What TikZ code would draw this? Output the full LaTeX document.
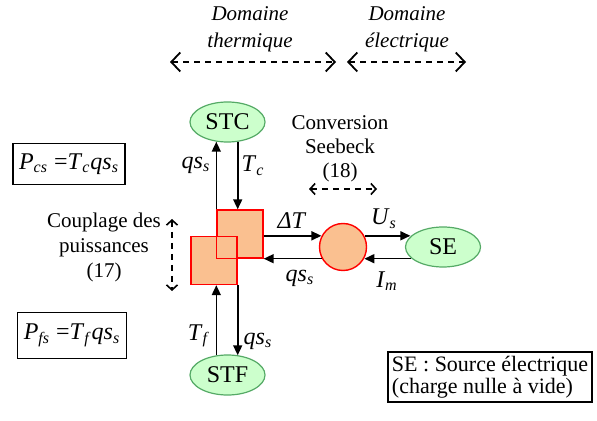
\documentclass[tikz,border=0pt]{standalone}
\usepackage{fontspec}
\setmainfont{Liberation Serif}
\usetikzlibrary{positioning, arrows.meta, shapes.geometric}

\definecolor{vertfond}{HTML}{CCFFCC}
\definecolor{vertbord}{HTML}{55AA66}
\definecolor{peche}{HTML}{FAC090}

\newcommand{\grand}[2]{\textit{#1}\textsubscript{\textit{#2}}}

\begin{document}
\begin{tikzpicture}[x=0.5pt, y=-0.5pt,
	source/.style={ellipse, draw=vertbord, fill=vertfond, line width=0.6pt, minimum width=37.5pt, minimum height=20pt, inner sep=0pt, font=\fontsize{12}{14}\selectfont},
	carre/.style={draw=red, fill=peche, line width=0.7pt, minimum width=23pt, minimum height=24pt, inner sep=0pt},
	fleche/.style={line width=0.8pt, -{Triangle[length=5pt,width=4.5pt]}},
	domaine/.style={line width=0.9pt, dash pattern=on 3pt off 2.5pt, {Straight Barb[length=4.5pt,width=9.5pt]}-{Straight Barb[length=4.5pt,width=9.5pt]}},
	couplage/.style={line width=0.8pt, dash pattern=on 3pt off 2.5pt, {Straight Barb[length=2.5pt,width=5.5pt]}-{Straight Barb[length=2.5pt,width=5.5pt]}},
	texte/.style={align=center, font=\fontsize{10.5}{12.5}\selectfont},
	lbl/.style={inner sep=0pt, font=\fontsize{12}{14}\selectfont},
	cadre/.style={draw, line width=0.6pt, inner xsep=3pt, font=\fontsize{12}{14}\selectfont}]

	\useasboundingbox (0, 0) rectangle (597, 421);

	% domaines
	\node[texte, font=\fontsize{10.5}{13.5}\selectfont\itshape] (domth) at (250, 29) {Domaine\\thermique};
	\node[texte, font=\fontsize{10.5}{13.5}\selectfont\itshape] (domel) at (407, 29) {Domaine\\électrique};
	\coordinate (thg) at (170, 62);
	\coordinate (thd) at (336, 62);
	\coordinate (elg) at (347, 62);
	\coordinate (eld) at (466, 62);
	\draw[domaine] (thg) -- (thd);
	\draw[domaine] (elg) -- (eld);

	% sources
	\node[source] (stc) at (227.5, 122) {STC};
	\node[source] (stf) at (227.5, 375) {STF};
	\node[source] (se) at (443, 247) {SE};

	% couplage des puissances
	\node[carre] (sq1) at (240, 234) {};
	\node[carre] (sq2) at (214, 260.5) {};
	\draw[red, line width=0.7pt] (sq1.south west) rectangle (sq1.north east);

	% conversion
	\node[circle, draw=red, fill=peche, line width=0.7pt, minimum size=23.5pt, inner sep=0pt] (conv) at (343, 247) {};

	% fleches thermiques
	\draw[fleche] (sq1.north west) -- (sq1.north west |- stc.241);
	\draw[fleche] (sq2.east |- stc.299) -- (sq2.east |- sq1.north);
	\draw[fleche] (sq1.west |- stf.119) -- (sq1.west |- sq2.south);
	\draw[fleche] (sq2.south east) -- (sq2.south east |- stf.61);
	\draw[fleche] (sq1.east |- sq2.north) -- (conv.153 |- sq2.north);
	\draw[fleche] (conv.208 |- sq1.south) -- (sq1.south east);

	% fleches electriques
	\draw[fleche] (conv.27 |- sq2.north) -- (se.162 |- sq2.north);
	\draw[fleche] (se.199 |- sq1.south) -- (conv.332 |- sq1.south);

	% grandeurs
	\node[lbl] (qsc) at (196, 165) {\grand{qs}{s}};
	\node[lbl] (tc) at (253, 166) {\grand{T}{c}};
	\node[lbl] (dt) at (292, 221) {\textit{ΔT}};
	\node[lbl] (qsm) at (300, 278) {\grand{qs}{s}};
	\node[lbl] (us) at (384, 219) {\grand{U}{s}};
	\node[lbl] (im) at (387, 281) {\grand{I}{m}};
	\node[lbl] (tf) at (199, 336) {\grand{T}{f}};
	\node[lbl] (qsf) at (258, 341) {\grand{qs}{s}};

	% textes
	\node[texte, font=\fontsize{10.5}{12}\selectfont] (txconv) at (340, 149) {Conversion\\Seebeck\\(18)};
	\coordinate (cvg) at (309, 189);
	\coordinate (cvd) at (377, 189);
	\draw[couplage] (cvg) -- (cvd);

	\node[texte] (txcoup) at (104, 247) {Couplage des\\puissances\\(17)};
	\coordinate (cph) at (172, 219);
	\coordinate (cpb) at (172, 291);
	\draw[couplage] (cph) -- (cpb);

	% puissances
	\node[cadre, inner ysep=5pt] (pcs) at (69, 164) {\grand{P}{cs} =\grand{T}{c}\grand{qs}{s}};
	\node[cadre, inner ysep=6pt] (pfs) at (72, 335.5) {\grand{P}{fs} =\grand{T}{f}\grand{qs}{s}};

	% legende
	\node[draw, line width=0.6pt, inner sep=2pt, align=left, font=\fontsize{11}{11}\selectfont] (leg) at (490, 377) {SE : Source électrique\\(charge nulle à vide)};

\end{tikzpicture}
\end{document}
